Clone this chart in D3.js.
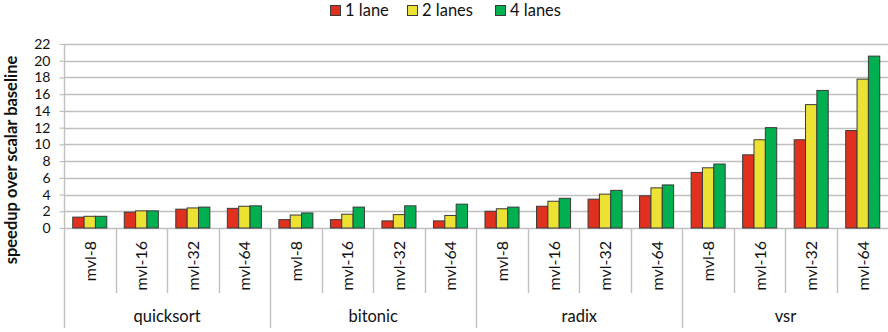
<!DOCTYPE html>
<html>
<head>
<meta charset="utf-8">
<script src="https://cdn.jsdelivr.net/npm/d3@7"></script>
<style>
  html, body { margin: 0; padding: 0; background: #fff; }
  svg { display: block; font-family: Lato, "Open Sans", sans-serif; }
</style>
</head>
<body>
<svg id="chart" width="888" height="332"></svg>
<script>
// Benchmarks (outer groups) and vector lengths (inner categories)
const groups = ["quicksort", "bitonic", "radix", "vsr"];
const configs = ["mvl-8", "mvl-16", "mvl-32", "mvl-64"];
const seriesNames = ["1 lane", "2 lanes", "4 lanes"];
const seriesColors = ["#e0301e", "#ece234", "#00b050"];
const yTicks = [0, 2, 4, 6, 8, 10, 12, 14, 16, 18, 20, 22];

// Speedup values, one array per lane count, ordered group by group, mvl-8..mvl-64
const lane1 = [1.3, 1.9, 2.25, 2.35,  1.0, 1.0, 0.85, 0.85,  2.0, 2.6, 3.45, 3.85,  6.65, 8.75, 10.55, 11.65];
const lane2 = [1.4, 2.05, 2.4, 2.6,   1.55, 1.65, 1.6, 1.5,  2.3, 3.2, 4.05, 4.8,   7.2, 10.55, 14.75, 17.8];
const lane4 = [1.4, 2.05, 2.5, 2.65,  1.8, 2.5, 2.65, 2.85,  2.5, 3.55, 4.5, 5.15,  7.65, 12.0, 16.45, 20.55];
const seriesValues = [lane1, lane2, lane4];

const svg = d3.select("#chart");
const margin = { left: 64, right: 0, top: 44, bottom: 104 };
const W = 888, H = 332;
const plotBottom = H - margin.bottom; // zero line

// Flattened category list: each entry is one benchmark/config pair
const cats = [];
groups.forEach((g, gi) => configs.forEach((c, ci) => cats.push({ key: g + "|" + c, group: g, config: c, idx: gi * configs.length + ci })));

const x0 = d3.scaleBand().domain(cats.map(d => d.key)).range([margin.left, W - margin.right + 0.5]).paddingInner(0).paddingOuter(0);
const x1 = d3.scaleBand().domain(seriesNames).range([0, x0.bandwidth()]).paddingInner(0).paddingOuter(0.77);
const y = d3.scaleLinear().domain([0, 22]).range([plotBottom, margin.top]);

const gridColor = "#c0c0c0";

// Horizontal gridlines
svg.append("g")
  .selectAll("line")
  .data(yTicks)
  .join("line")
  .attr("x1", margin.left).attr("x2", W)
  .attr("y1", d => Math.round(y(d)) + 0.5).attr("y2", d => Math.round(y(d)) + 0.5)
  .attr("stroke", gridColor).attr("stroke-width", 1.4);

// Y axis with outward ticks
const yAxis = d3.axisLeft(y).tickValues(yTicks).tickSize(5).tickPadding(9).tickFormat(d3.format("d"));
const yg = svg.append("g").attr("transform", `translate(${margin.left + 0.5},0)`).call(yAxis);
yg.select(".domain").remove();
yg.selectAll(".tick line").attr("stroke", gridColor).attr("stroke-width", 1.2);
yg.selectAll(".tick text").attr("font-size", 14).attr("fill", "#111").attr("font-family", "Lato, sans-serif");

// Vertical axis line, running down through the category label area
svg.append("line")
  .attr("x1", margin.left + 0.5).attr("x2", margin.left + 0.5)
  .attr("y1", margin.top).attr("y2", 328)
  .attr("stroke", gridColor).attr("stroke-width", 1.4);

// Category dividers: short ones between configs, long ones between benchmarks
const boundaries = d3.range(1, cats.length);
svg.append("g")
  .selectAll("line")
  .data(boundaries)
  .join("line")
  .attr("x1", i => Math.round(x0(cats[i].key)) + 0.5)
  .attr("x2", i => Math.round(x0(cats[i].key)) + 0.5)
  .attr("y1", plotBottom)
  .attr("y2", i => (i % configs.length === 0 ? 328 : 293))
  .attr("stroke", gridColor).attr("stroke-width", 1.4);

// Bars
const barG = svg.append("g");
cats.forEach(cat => {
  seriesNames.forEach((s, si) => {
    const v = seriesValues[si][cat.idx];
    barG.append("rect")
      .attr("x", x0(cat.key) + x1(s))
      .attr("y", y(v))
      .attr("width", x1.bandwidth())
      .attr("height", y(0) - y(v))
      .attr("fill", seriesColors[si])
      .attr("stroke", "#3a3a3a")
      .attr("stroke-width", 1);
  });
});

// Rotated config labels
svg.append("g")
  .selectAll("text")
  .data(cats)
  .join("text")
  .attr("transform", d => `translate(${x0(d.key) + x0.bandwidth() / 2 + 6},${241}) rotate(-90)`)
  .attr("text-anchor", "end")
  .attr("font-size", 16)
  .attr("fill", "#111")
  .text(d => d.config);

// Benchmark group labels
const groupWidth = x0.bandwidth() * configs.length;
svg.append("g")
  .selectAll("text")
  .data(groups)
  .join("text")
  .attr("x", (g, gi) => x0(cats[gi * configs.length].key) + groupWidth / 2)
  .attr("y", 322)
  .attr("text-anchor", "middle")
  .attr("font-size", 16.5)
  .attr("fill", "#111")
  .text(g => g);

// Y axis title
svg.append("text")
  .attr("transform", `translate(17,${(50 + 270) / 2}) rotate(-90)`)
  .attr("text-anchor", "middle")
  .attr("font-size", 16.5)
  .attr("font-weight", "bold")
  .attr("fill", "#111")
  .text("speedup over scalar baseline");

// Legend
const legendX = [330, 407, 495];
const legend = svg.append("g");
seriesNames.forEach((s, i) => {
  legend.append("rect")
    .attr("x", legendX[i] + 0.5).attr("y", 5.5)
    .attr("width", 10).attr("height", 10)
    .attr("fill", seriesColors[i])
    .attr("stroke", "#3a3a3a").attr("stroke-width", 1);
  legend.append("text")
    .attr("x", legendX[i] + 15).attr("y", 16)
    .attr("font-size", 16.5)
    .attr("fill", "#111")
    .text(s);
});
</script>
</body>
</html>
